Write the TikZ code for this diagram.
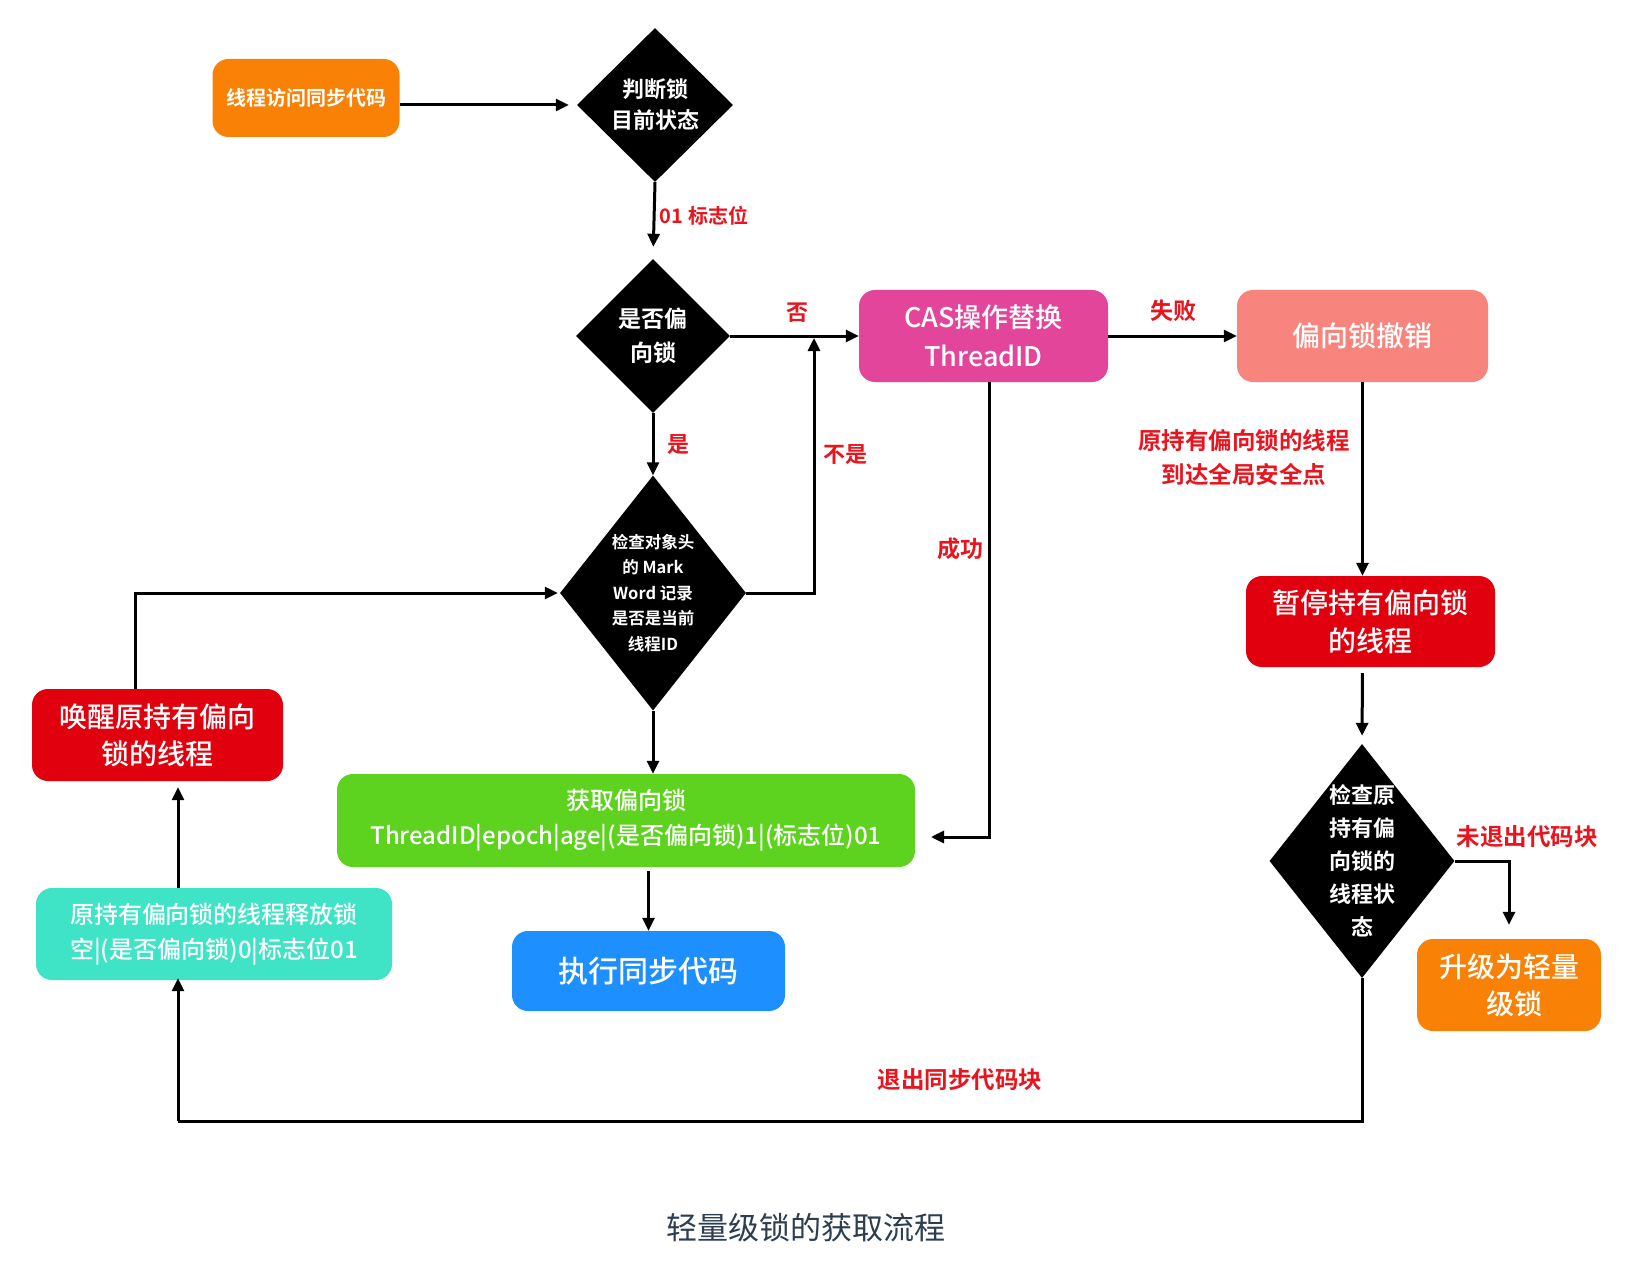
\documentclass[tikz,border=0pt]{standalone}
\usepackage{fontspec}
\setmainfont{Noto Sans CJK SC}[BoldFont={Noto Sans CJK SC Bold}]
\newfontfamily\medfont{Noto Sans CJK SC Medium}
\usetikzlibrary{shapes.geometric,arrows.meta,calc}
\definecolor{corange}{HTML}{F98106}
\definecolor{cmag}{HTML}{E3459B}
\definecolor{csalmon}{HTML}{F8857D}
\definecolor{cred}{HTML}{E1000E}
\definecolor{cgreen}{HTML}{5ED31F}
\definecolor{cblue}{HTML}{1E8FFF}
\definecolor{ccyan}{HTML}{3EE4C5}
\definecolor{labred}{HTML}{E8141E}
\definecolor{capgray}{HTML}{2C3E50}
\newcommand\fsz[2]{\fontsize{#1pt}{#2pt}\selectfont}
\begin{document}
\begin{tikzpicture}[x=1pt,y=-1pt,
  box/.style={rectangle, rounded corners=16pt, draw=none, text=white, align=center, inner sep=0pt},
  dia/.style={diamond, fill=black, draw=none, inner sep=0pt},
  diatext/.style={text=white, align=center, inner sep=0pt},
  lab/.style={text=labred, align=center, inner sep=0pt},
  arr/.style={line width=3pt, -{Triangle[length=13pt,width=12pt]}},
  ln/.style={line width=3pt}]
\useasboundingbox[fill=white] (0,0) rectangle (1642,1284);

% nodes
\node[box, fill=corange, minimum width=187pt, minimum height=78pt, font=\fsz{20}{24}\bfseries] (b1) at (306,98) {线程访问同步代码};

\node[dia, minimum width=156pt, minimum height=154pt] (d1) at (655,105) {};
\node[diatext, font=\fsz{22}{31}\bfseries] (t1) at (d1) {判断锁\\目前状态};

\node[dia, minimum width=154pt, minimum height=154pt] (d2) at (653,336) {};
\node[diatext, font=\fsz{23}{34}\bfseries] (t2) at (d2) {是否偏\\向锁};

\node[dia, minimum width=186pt, minimum height=235pt] (d3) at (653,593) {};
\node[diatext, font=\fsz{16.5}{25.5}\bfseries] (t3) at (d3) {检查对象头\\的 Mark\\Word 记录\\是否是当前\\线程ID};

\node[box, fill=cmag, minimum width=249pt, minimum height=92pt, font=\fsz{27}{39}\medfont] (cas) at (983.5,336) {CAS操作替换\\ThreadID};

\node[box, fill=csalmon, minimum width=251pt, minimum height=92pt, font=\fsz{28}{38}\medfont] (rev) at (1362.5,336) {偏向锁撤销};

\node[box, fill=cred, minimum width=249pt, minimum height=91pt, font=\fsz{28}{38}\medfont] (pause) at (1370.5,621.5) {暂停持有偏向锁\\的线程};

\node[dia, minimum width=185pt, minimum height=234pt] (d4) at (1362,861) {};
\node[diatext, font=\fsz{22}{33}\bfseries] (t4) at (d4) {检查原\\持有偏\\向锁的\\线程状\\态};

\node[box, fill=corange, minimum width=184pt, minimum height=92pt, font=\fsz{28}{37}\medfont] (up) at (1509,985) {升级为轻量\\\hspace*{10pt}级锁};

\node[box, fill=cgreen, minimum width=578pt, minimum height=93pt, font=\fsz{24}{35}\medfont] (green) at (626,820.5) {获取偏向锁\\ThreadID|epoch|age|(是否偏向锁)1|(标志位)01};

\node[box, fill=cblue, minimum width=273pt, minimum height=80pt, font=\fsz{30}{38}\medfont] (blue) at (648.5,971) {执行同步代码};

\node[box, fill=ccyan, minimum width=356pt, minimum height=92pt, font=\fsz{24}{35}\medfont] (cyan) at (214,934) {原持有偏向锁的线程释放锁\\空|(是否偏向锁)0|标志位01};

\node[box, fill=cred, minimum width=251pt, minimum height=92pt, font=\fsz{28}{37}\medfont] (wake) at (157.5,735) {唤醒原持有偏向\\锁的线程};

% coordinates
\coordinate (cNot) at (814,338);
\coordinate (cCas) at (989,837);
\coordinate (cCasTip) at (931,837);
\coordinate (cBot) at (178,1121);
\coordinate (cWake) at (135,594);

% connectors
\draw[arr, shorten >=8pt] (b1.east |- d1.west) -- (d1.west);
\draw[arr, shorten >=12pt] (d1.south) -- (d2.north);
\draw[arr] (d2.east) -- (cas.west);
\draw[arr] (d2.south) -- (d3.north);
\draw[arr] (d3.east) -| (cNot);
\draw[arr] (cas.east) -- (rev.west);
\draw[arr] (rev.south) -- (rev.south |- pause.north);
\draw[arr, shorten <=6pt, shorten >=8pt] (rev.south |- pause.south) -- (d4.north);
\draw[arr, shorten >=14pt] (d4.east) -| (up.north);
\draw[ln] (d4.south) |- (cBot);
\draw[arr, shorten >=-2pt] (cBot) -- (cBot |- cyan.south);
\draw[arr, shorten >=6pt] (cBot |- cyan.north) -- (cBot |- wake.south);
\draw[arr, shorten >=2pt] (cWake |- wake.north) |- (d3.west);
\draw[arr] (d3.south) -- (d3.south |- green.north);
\draw[arr] (cCas |- cas.south) |- (cCasTip);
\draw[arr, shorten <=4pt] (blue.north |- green.south) -- (blue.north);

% labels
\node[lab, font=\fsz{20}{24}\bfseries] (l01) at (704,216) {01 标志位};
\node[lab, font=\fsz{22}{26}\bfseries] (lno) at (797,313) {否};
\node[lab, font=\fsz{22}{26}\bfseries] (lyes) at (678,445) {是};
\node[lab, font=\fsz{22}{26}\bfseries] (lnot) at (845,455) {不是};
\node[lab, font=\fsz{23}{27}\bfseries] (lfail) at (1173,311) {失败};
\node[lab, font=\fsz{23}{27}\bfseries] (lok) at (960,549) {成功};
\node[lab, font=\fsz{23.5}{34}\bfseries] (lsafe) at (1244,458) {原持有偏向锁的线程\\到达全局安全点};
\node[lab, font=\fsz{23.5}{27}\bfseries] (lnotexit) at (1527,837) {未退出代码块};
\node[lab, font=\fsz{23.5}{27}\bfseries] (lexit) at (960,1080) {退出同步代码块};
\node[text=capgray, inner sep=0pt, font=\fsz{31}{36}] (cap) at (806,1228) {轻量级锁的获取流程};
\end{tikzpicture}
\end{document}
